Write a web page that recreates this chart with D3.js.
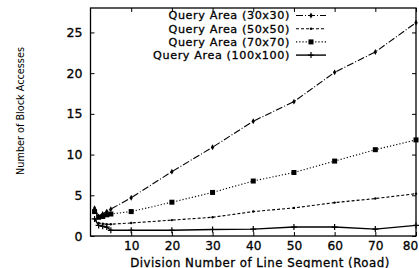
<!DOCTYPE html>
<html>
<head>
<meta charset="utf-8">
<script src="https://cdn.jsdelivr.net/npm/d3@7"></script>
<style>
  body { margin: 0; background: #fff; }
  svg { display: block; }
  text { font-family: "DejaVu Sans", sans-serif; fill: #000; }
  .heavy { stroke: #000; stroke-width: 0.3px; }
</style>
</head>
<body>
<div id="chart"></div>
<script>
const width = 419, height = 268;
const margin = {top: 8, right: 3, bottom: 32, left: 90.5};

const divisions = [1, 2, 3, 4, 5, 10, 20, 30, 40, 50, 60, 70, 80];
const area30 = [3.4, 2.4, 2.7, 3.0, 3.3, 4.7, 7.9, 10.9, 14.1, 16.5, 20.1, 22.6, 26.2];
const area50 = [2.1, 1.6, 1.5, 1.45, 1.45, 1.6, 1.95, 2.3, 3.0, 3.45, 4.1, 4.6, 5.2];
const area70 = [3.0, 2.3, 2.4, 2.6, 2.7, 3.0, 4.15, 5.35, 6.75, 7.8, 9.2, 10.6, 11.8];
const area100 = [2.1, 1.3, 1.2, 1.1, 0.7, 0.7, 0.7, 0.8, 0.85, 1.1, 1.1, 0.85, 1.3];
const seriesNames = ["Query Area (30x30)", "Query Area (50x50)", "Query Area (70x70)", "Query Area (100x100)"];
const xTicks = [10, 20, 30, 40, 50, 60, 70, 80];
const yTicks = [0, 5, 10, 15, 20, 25];

const series = [
  {name: seriesNames[0], values: area30, dash: "7,2,1,2", marker: "diamond"},
  {name: seriesNames[1], values: area50, dash: "3,2", marker: "dot"},
  {name: seriesNames[2], values: area70, dash: "1.2,2", marker: "square"},
  {name: seriesNames[3], values: area100, dash: null, marker: "plus"}
];

const x = d3.scaleLinear().domain([0, 80]).range([margin.left, width - margin.right]);
const y = d3.scaleLinear().domain([0, 28]).range([height - margin.bottom, margin.top]);

const svg = d3.select("#chart").append("svg")
    .attr("width", width)
    .attr("height", height);

// frame with inward ticks, mirrored like gnuplot
const tickLen = 4;
svg.append("g")
    .attr("transform", `translate(0,${y(0)})`)
    .call(d3.axisBottom(x).tickValues(xTicks).tickSize(-tickLen).tickPadding(5))
    .call(g => g.select(".domain").remove())
    .selectAll("text")
    .attr("class", "heavy")
    .attr("font-size", 12.2)
    .attr("dx", d => d === 80 ? -6 : 0);

svg.append("g")
    .attr("transform", `translate(0,${y(28)})`)
    .call(d3.axisTop(x).tickValues(xTicks).tickSize(-tickLen).tickFormat(""))
    .call(g => g.select(".domain").remove());

svg.append("g")
    .attr("transform", `translate(${x(0)},0)`)
    .call(d3.axisLeft(y).tickValues(yTicks).tickSize(-tickLen).tickPadding(8))
    .call(g => g.select(".domain").remove())
    .selectAll("text")
    .attr("class", "heavy")
    .attr("font-size", 12.5);

svg.append("g")
    .attr("transform", `translate(${x(80)},0)`)
    .call(d3.axisRight(y).tickValues(yTicks).tickSize(-tickLen).tickFormat(""))
    .call(g => g.select(".domain").remove());

svg.append("rect")
    .attr("x", x(0)).attr("y", y(28))
    .attr("width", x(80) - x(0)).attr("height", y(0) - y(28))
    .attr("fill", "none").attr("stroke", "#000").attr("stroke-width", 1.3);

svg.selectAll(".tick line").attr("stroke", "#000");

// axis titles
svg.append("text")
    .attr("transform", `translate(24,111) rotate(-90)`)
    .attr("text-anchor", "middle")
    .attr("font-size", 9.7)
    .text("Number of Block Accesses");

svg.append("text")
    .attr("class", "heavy")
    .attr("x", 260).attr("y", 266.5)
    .attr("text-anchor", "middle")
    .attr("font-size", 11.8)
    .attr("letter-spacing", 0.5)
    .text("Division Number of Line Segment (Road)");

const line = d3.line()
    .x((d, i) => x(divisions[i]))
    .y(d => y(d));

function drawMarker(g, type, cx, cy) {
  if (type === "diamond") {
    g.append("path").attr("d", d3.symbol(d3.symbolDiamond, 10)())
        .attr("transform", `translate(${cx},${cy})`).attr("fill", "#000");
  } else if (type === "dot") {
    g.append("circle").attr("cx", cx).attr("cy", cy).attr("r", 1.2).attr("fill", "#000");
  } else if (type === "square") {
    g.append("rect").attr("x", cx - 2.5).attr("y", cy - 2.5).attr("width", 5).attr("height", 5)
        .attr("fill", "#000");
  } else if (type === "plus") {
    g.append("path").attr("d", `M${cx - 3},${cy}H${cx + 3}M${cx},${cy - 3}V${cy + 3}`)
        .attr("stroke", "#000").attr("stroke-width", 1.2);
  }
}

const plot = svg.append("g");
series.forEach(s => {
  plot.append("path")
      .datum(s.values)
      .attr("d", line)
      .attr("fill", "none")
      .attr("stroke", "#000")
      .attr("stroke-width", s.dash ? 1.1 : 1.4)
      .attr("stroke-dasharray", s.dash);
  const mg = plot.append("g");
  s.values.forEach((v, i) => drawMarker(mg, s.marker, x(divisions[i]), y(v)));
});

// legend
const legend = svg.append("g")
    .selectAll("g")
    .data(series)
    .enter().append("g")
    .attr("transform", (d, i) => `translate(0,${15.5 + i * 13.2})`);

legend.append("text")
    .attr("class", "heavy")
    .attr("x", 290)
    .attr("dy", "0.35em")
    .attr("text-anchor", "end")
    .attr("font-size", 11.2)
    .attr("letter-spacing", 0.6)
    .text(d => d.name);

legend.append("line")
    .attr("x1", 296).attr("x2", 326)
    .attr("stroke", "#000")
    .attr("stroke-width", d => d.dash ? 1.1 : 1.4)
    .attr("stroke-dasharray", d => d.dash);

legend.each(function (d) {
  drawMarker(d3.select(this), d.marker, 311, 0);
});
</script>
</body>
</html>
